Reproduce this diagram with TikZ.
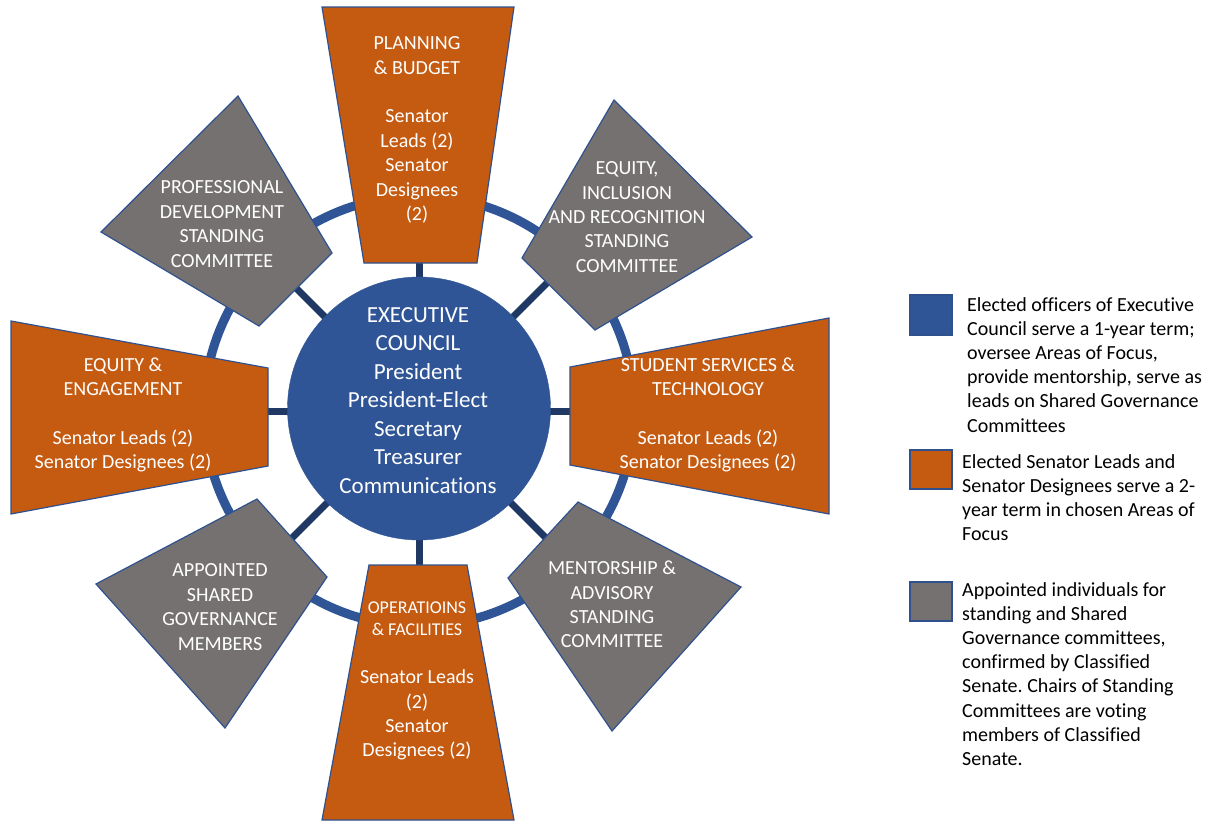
\documentclass[tikz,border=0pt]{standalone}
\usepackage{fontspec}
\setmainfont{Carlito}[Ligatures=NoCommon]
\frenchspacing
\definecolor{cblue}{HTML}{2F5597}
\definecolor{cnavy}{HTML}{1F3864}
\definecolor{corange}{HTML}{C55A11}
\definecolor{cgray}{HTML}{767171}
\definecolor{cedge}{HTML}{2F528F}
\begin{document}
\begin{tikzpicture}[x=1pt,y=-1pt,
  ringline/.style={draw=cblue,line width=9pt},
  spoke/.style={draw=cnavy,line width=7pt},
  orangebox/.style={fill=corange,draw=cedge,line width=1.2pt,line join=miter},
  graybox/.style={fill=cgray,draw=cedge,line width=1.2pt,line join=miter},
  boxtext/.style={text=white,align=center,inner sep=0pt,font=\fontsize{20}{24.4}\selectfont},
  legtext/.style={text=black,align=left,inner sep=0pt,anchor=north west,font=\fontsize{20}{24.2}\selectfont},
  legbox/.style={draw=cedge,line width=1.5pt}]
\useasboundingbox (0,0) rectangle (1212,822);
\fill[white] (0,0) rectangle (1212,822);
\coordinate (C) at (419,411);
% ring and spokes
\draw[ringline] (C) circle[radius=215];
\foreach \a in {0,45,...,315} \draw[spoke] (C) -- ++(\a:215);
% orange trapezoids
\draw[orangebox] (322,7) -- (514,7) -- (477,263) -- (364,263) -- cycle;
\draw[orangebox] (369,565) -- (467,565) -- (514,820) -- (322,820) -- cycle;
\draw[orangebox] (11,321) -- (268,368) -- (268,466) -- (11,514) -- cycle;
\draw[orangebox] (570,367) -- (829,318) -- (829,514) -- (570,465) -- cycle;
% gray trapezoids
\draw[graybox] (238,96) -- (332,253) -- (259,326) -- (101,232) -- cycle;
\draw[graybox] (614,100) -- (752,237) -- (595,330) -- (522,258) -- cycle;
\draw[graybox] (578,502) -- (741,587) -- (612,731) -- (508,578) -- cycle;
\draw[graybox] (257,499) -- (327,577) -- (225,728) -- (96,584) -- cycle;
% central circle
\node (ec) [circle,fill=cblue,draw=cblue,minimum size=263pt,inner sep=0pt] at (419,408.5) {};
\node (ectext) [text=white,align=center,inner sep=0pt,font=\fontsize{23}{28.5}\selectfont] at (418,400.5)
  {EXECUTIVE\\COUNCIL\\President\\President-Elect\\Secretary\\Treasurer\\Communications};
% texts in shapes
\node (pb) [boxtext] at (417,130) {PLANNING\\\& BUDGET\\[24.4pt]Senator\\Leads (2)\\Senator\\Designees\\(2)};
\node (ee) [boxtext] at (123,415) {EQUITY \&\\ENGAGEMENT\\[24.4pt]Senator Leads (2)\\Senator Designees (2)};
\node (sst) [boxtext] at (708,415) {STUDENT SERVICES \&\\TECHNOLOGY\\[24.4pt]Senator Leads (2)\\Senator Designees (2)};
\node (oft) [boxtext,font=\fontsize{18}{22.3}\selectfont] at (417,619) {OPERATIOINS\\\& FACILITIES};
\node (ofb) [boxtext] at (417,715) {Senator Leads\\(2)\\Senator\\Designees (2)};
\node (pd) [boxtext] at (222,224) {PROFESSIONAL\\DEVELOPMENT\\STANDING\\COMMITTEE};
\node (eir) [boxtext] at (627,217) {EQUITY,\\INCLUSION\\AND RECOGNITION\\STANDING\\COMMITTEE};
\node (asg) [boxtext] at (220,607) {APPOINTED\\SHARED\\GOVERNANCE\\MEMBERS};
\node (mas) [boxtext] at (612,604.5) {MENTORSHIP \&\\ADVISORY\\STANDING\\COMMITTEE};
% legend
\draw[legbox,fill=cblue] (910,295) rectangle (952,335);
\draw[legbox,fill=corange] (910,450) rectangle (952,489);
\draw[legbox,fill=cgray] (910,582) rectangle (952,621);
\node (lg1) [legtext] at (967,297) {Elected officers of Executive\\Council serve a 1-year term;\\oversee Areas of Focus,\\provide mentorship, serve as\\leads on Shared Governance\\Committees};
\node (lg2) [legtext] at (962,454) {Elected Senator Leads and\\Senator Designees serve a 2-\\year term in chosen Areas of\\Focus};
\node (lg3) [legtext] at (962,582) {Appointed individuals for\\standing and Shared\\Governance committees,\\confirmed by Classified\\Senate. Chairs of Standing\\Committees are voting\\members of Classified\\Senate.};
\end{tikzpicture}
\end{document}
